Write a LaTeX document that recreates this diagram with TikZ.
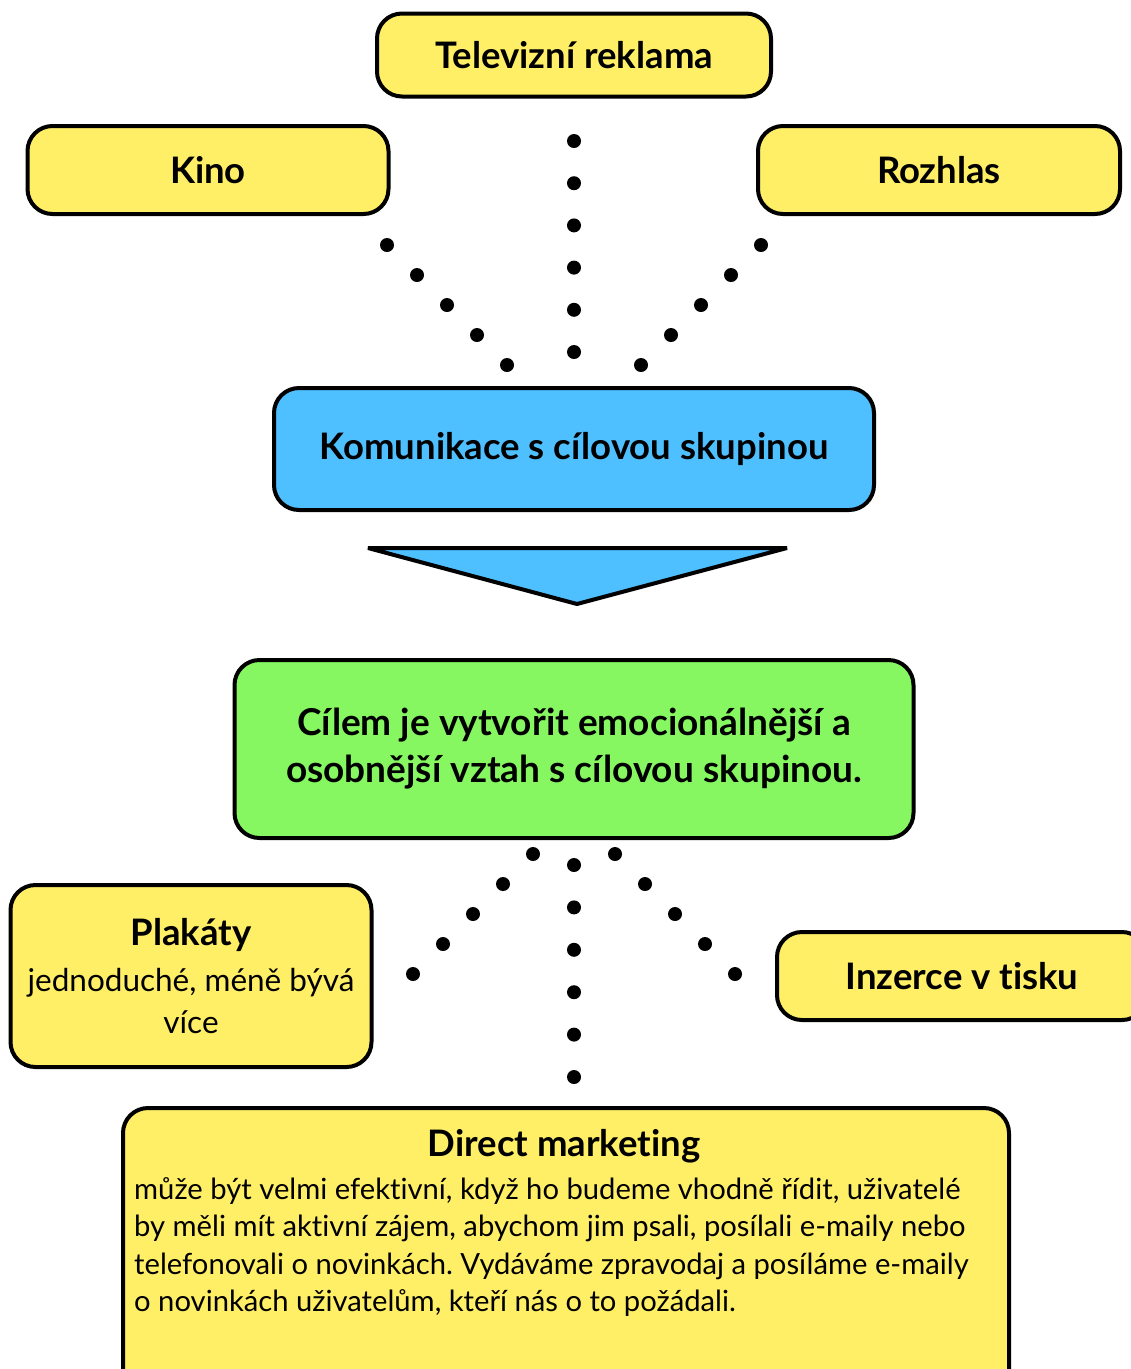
\documentclass[tikz,border=0pt]{standalone}
\usepackage{fontspec}
\setmainfont{Lato}[Ligatures=NoCommon]
\usetikzlibrary{calc}
\frenchspacing

\definecolor{boxyellow}{RGB}{255,239,102}
\definecolor{boxblue}{RGB}{79,192,255}
\definecolor{boxgreen}{RGB}{134,247,97}

\tikzset{
    box/.style={draw=black, line width=4pt, rounded corners=25pt, inner sep=0pt},
    title/.style={font=\bfseries\fontsize{36.5}{47}\selectfont},
    body/.style={font=\fontsize{29.2}{37.5}\selectfont},
}
% row of dots from #1 to #2 with #3 gaps
\newcommand{\dotrow}[3]{\foreach \i in {0,...,#3} \fill ($(#1)!{\i/#3}!(#2)$) circle (7pt);}

\begin{document}
\begin{tikzpicture}[x=1pt,y=-1pt]
    \useasboundingbox (0,0) rectangle (1131,1369);

    \node[box, fill=boxyellow, minimum width=394pt, minimum height=83pt, title] (tv) at (574,55) {Televizní reklama};
    \node[box, fill=boxyellow, minimum width=361pt, minimum height=88pt, title] (kino) at (208,170) {Kino};
    \node[box, fill=boxyellow, minimum width=362pt, minimum height=88pt, title] (rozhlas) at (939,170) {Rozhlas};

    \coordinate (tvA) at (574,141);
    \coordinate (tvB) at (574,352);
    \coordinate (kinoA) at (387,245);
    \coordinate (kinoB) at (507,365);
    \coordinate (rozA) at (761,245);
    \coordinate (rozB) at (641,365);
    \dotrow{tvA}{tvB}{5}
    \dotrow{kinoA}{kinoB}{4}
    \dotrow{rozA}{rozB}{4}

    \node[box, fill=boxblue, minimum width=600pt, minimum height=122pt, title] (kom) at (574,449) {Komunikace s cílovou skupinou};
    \draw[fill=boxblue, line width=4pt, line join=bevel] (368,548) -- (787,548) -- (577,604) -- cycle;

    \node[box, fill=boxgreen, minimum width=679pt, minimum height=178pt, font=\bfseries\fontsize{37}{47}\selectfont, align=center] (cil) at (574,749)
        {Cílem je vytvořit emocionálnější a\\osobnější vztah s cílovou skupinou.};

    \coordinate (midA) at (574,865);
    \coordinate (midB) at (574,1077);
    \coordinate (plakA) at (533,854);
    \coordinate (plakB) at (413,974);
    \coordinate (inzA) at (615,854);
    \coordinate (inzB) at (735,974);
    \dotrow{midA}{midB}{5}
    \dotrow{plakA}{plakB}{4}
    \dotrow{inzA}{inzB}{4}

    \node[box, fill=boxyellow, minimum width=361pt, minimum height=182pt, align=center, font=\fontsize{31.5}{42}\selectfont] (plakaty) at (191,976)
        {{\bfseries\fontsize{36.5}{42}\selectfont Plakáty}\\[4pt]
         jednoduché, méně bývá\\
         více};
    \node[box, fill=boxyellow, minimum width=370pt, minimum height=88pt, title] (inzerce) at (962,976) {Inzerce v tisku};

    \node[box, fill=boxyellow, minimum width=886pt, minimum height=320pt, anchor=north west] (dm) at (121,1106) {};
    \node[title] (dmtitle) at (564,1146) {Direct marketing};
    \node[body, anchor=north west, align=left, inner sep=0pt] (dmtext) at (134,1177)
        {může být velmi efektivní, když ho budeme vhodně řídit, uživatelé\\
         by měli mít aktivní zájem, abychom jim psali, posílali e-maily nebo\\
         telefonovali o novinkách. Vydáváme zpravodaj a posíláme e-maily\\
         o novinkách uživatelům, kteří nás o to požádali.};
\end{tikzpicture}
\end{document}
